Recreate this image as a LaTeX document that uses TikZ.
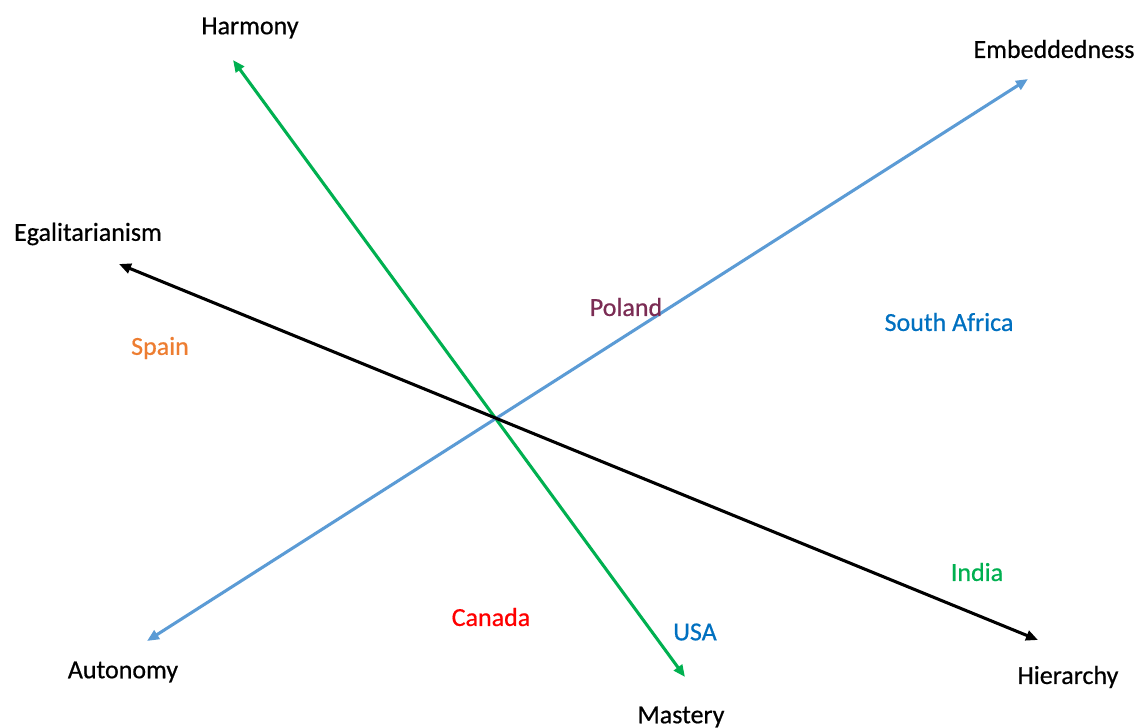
\documentclass[tikz,border=0pt]{standalone}
\usepackage{fontspec}
\setmainfont{Carlito}
\newfontface\labelface[FakeBold=0.6]{Carlito}
\usetikzlibrary{arrows.meta}
\definecolor{axgreen}{HTML}{00B050}
\definecolor{axblue}{HTML}{5B9BD5}
\definecolor{cblue}{HTML}{0070C0}
\definecolor{corange}{HTML}{ED7D31}
\definecolor{cpurple}{HTML}{7B2C54}
\definecolor{cred}{HTML}{FF0000}
\begin{document}
\begin{tikzpicture}[x=0.75pt,y=-0.75pt,
  pole/.style={font=\labelface\fontsize{19.5}{22}\selectfont, text=black, inner sep=0pt},
  country/.style={font=\labelface\fontsize{19.5}{22}\selectfont, inner sep=0pt},
  axis/.style={line width=2.3pt, {Triangle[length=9pt,width=7.5pt]}-{Triangle[length=9pt,width=7.5pt]}}]
\useasboundingbox (0,0) rectangle (1139,728);

% value poles
\node[pole] (harmony) at (250,28) {Harmony};
\node[pole] (mastery) at (681,717) {Mastery};
\node[pole] (embed) at (1054,49) {Embeddedness};
\node[pole] (auton) at (123,672) {Autonomy};
\node[pole] (egal) at (88,234) {Egalitarianism};
\node[pole] (hier) at (1068,677) {Hierarchy};

% axis end points
\coordinate (hTip) at (233,60);
\coordinate (mTip) at (685,677);
\coordinate (eTip) at (1028,79);
\coordinate (aTip) at (147,641);
\coordinate (gTip) at (119,264);
\coordinate (rTip) at (1038,640);

% the three axes
\draw[axis, axgreen] (mTip) -- (hTip);
\draw[axis, axblue] (aTip) -- (eTip);
\draw[axis, black] (gTip) -- (rTip);

% countries
\node[country, text=corange] (spain) at (160,348) {Spain};
\node[country, text=cpurple] (poland) at (626,307) {Poland};
\node[country, text=cblue] (safrica) at (949,322) {South Africa};
\node[country, text=axgreen] (india) at (977,572) {India};
\node[country, text=cred] (canada) at (491,617) {Canada};
\node[country, text=cblue] (usa) at (695,632) {USA};
\end{tikzpicture}
\end{document}
